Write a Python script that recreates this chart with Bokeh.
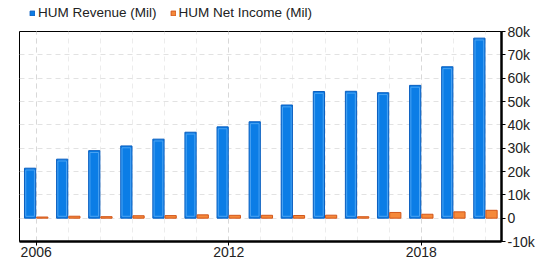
from bokeh.plotting import figure
from bokeh.layouts import column
from bokeh.models import (ColumnDataSource, FixedTicker, NumeralTickFormatter,
                          Legend, LegendItem)
from bokeh.transform import dodge
from bokeh.embed import file_html
from bokeh.resources import INLINE

years = [2006, 2007, 2008, 2009, 2010, 2011, 2012, 2013, 2014, 2015, 2016, 2017, 2018, 2019, 2020]
revenue = [21417, 25290, 28946, 30960, 33868, 36832, 39126, 41313, 48500, 54289, 54379, 53767, 56912, 64888, 77155]
net_income = [487, 834, 647, 1040, 1099, 1419, 1222, 1231, 1147, 1276, 614, 2448, 1683, 2707, 3367]
x_tick_labels = [2006, 2012, 2018]
y_ticks = [-10000, 0, 10000, 20000, 30000, 40000, 50000, 60000, 70000, 80000]
series_names = ["HUM Revenue (Mil)", "HUM Net Income (Mil)"]

BLUE_FILL, BLUE_LINE, BLUE_INNER = "#0b7de6", "#0a5fc0", "#4aa3f2"
ORANGE_FILL, ORANGE_LINE = "#f5893a", "#d2561a"

src = ColumnDataSource(data=dict(year=years, revenue=revenue, net=net_income))

FONT = "Liberation Sans"

# ---- legend strip on top (its renderers are hidden, only the legend shows) ----
leg = figure(width=540, height=20, x_range=(0, 1), y_range=(0, 1),
             x_axis_location=None, y_axis_location=None, toolbar_location=None,
             output_backend="svg", min_border=0, min_border_left=0,
             min_border_right=0, min_border_top=0, min_border_bottom=0)
leg.outline_line_color = None
leg.grid.visible = False
lr1 = leg.vbar(x="year", top="revenue", width=0.35, source=src,
               fill_color=BLUE_FILL, line_color=BLUE_LINE, line_width=1, visible=False)
lr2 = leg.vbar(x="year", top="net", width=0.35, source=src,
               fill_color=ORANGE_FILL, line_color=ORANGE_LINE, line_width=1, visible=False)
legend = Legend(items=[LegendItem(label=series_names[0], renderers=[lr1]),
                       LegendItem(label=series_names[1], renderers=[lr2])],
                orientation="horizontal", location=(10, 0), margin=0, padding=0,
                spacing=13, label_standoff=3, glyph_width=6, glyph_height=6,
                label_height=14, label_text_font=FONT, label_text_font_size="13.5px",
                label_text_color="#222222", border_line_alpha=0,
                background_fill_alpha=0, inactive_fill_alpha=0)
leg.add_layout(legend)

# ---- main chart ----
p = figure(width=540, height=250, x_range=(2005.48, 2020.5), y_range=(-10000, 80000),
           y_axis_location="right", toolbar_location=None, output_backend="svg",
           min_border_left=19, min_border_right=39, min_border_top=11, min_border_bottom=29)

p.outline_line_color = "black"
p.outline_line_width = 1
p.background_fill_color = "white"

# grids
p.xgrid.ticker = FixedTicker(ticks=x_tick_labels, minor_ticks=years)
p.xgrid.grid_line_color = "#d8d8d8"
p.xgrid.grid_line_dash = "5 4"
p.xgrid.minor_grid_line_color = "#ececec"
p.xgrid.minor_grid_line_dash = "5 4"
p.ygrid.ticker = FixedTicker(ticks=y_ticks)
p.ygrid.grid_line_color = "#e2e2e2"
p.ygrid.grid_line_dash = "5 4"

# bars
bw = 0.35
p.vbar(x=dodge("year", -0.19), top="revenue", bottom=0, width=bw,
       source=src, fill_color=BLUE_FILL, line_color=BLUE_LINE, line_width=1)
p.vbar(x=dodge("year", -0.19), top=dodge("revenue", -800), bottom=800,
       width=bw - 0.08, source=src, fill_alpha=0, line_color=BLUE_INNER, line_width=1)
p.vbar(x=dodge("year", 0.19), top="net", bottom=0, width=bw,
       source=src, fill_color=ORANGE_FILL, line_color=ORANGE_LINE, line_width=1)

# axes
xa = p.xaxis[0]
xa.ticker = FixedTicker(ticks=x_tick_labels, minor_ticks=[])
xa.axis_line_width = 2.5
xa.axis_line_color = "black"
xa.major_tick_line_color = "black"
xa.major_tick_out = 4
xa.major_tick_in = 0
xa.minor_tick_line_color = None
xa.major_label_text_font = FONT
xa.major_label_text_font_size = "14px"
xa.major_label_text_color = "#222222"
xa.major_label_standoff = 1

ya = p.yaxis[0]
ya.ticker = FixedTicker(ticks=y_ticks)
ya.formatter = NumeralTickFormatter(format="0a")
ya.axis_line_width = 2.5
ya.axis_line_color = "black"
ya.major_tick_line_color = "black"
ya.major_tick_out = 4
ya.major_tick_in = 0
ya.minor_tick_line_color = None
ya.major_label_text_font = FONT
ya.major_label_text_font_size = "14px"
ya.major_label_text_color = "#222222"
ya.major_label_standoff = 2

layout = column(leg, p, spacing=0)

open("out.html", "w").write(file_html(layout, INLINE))
